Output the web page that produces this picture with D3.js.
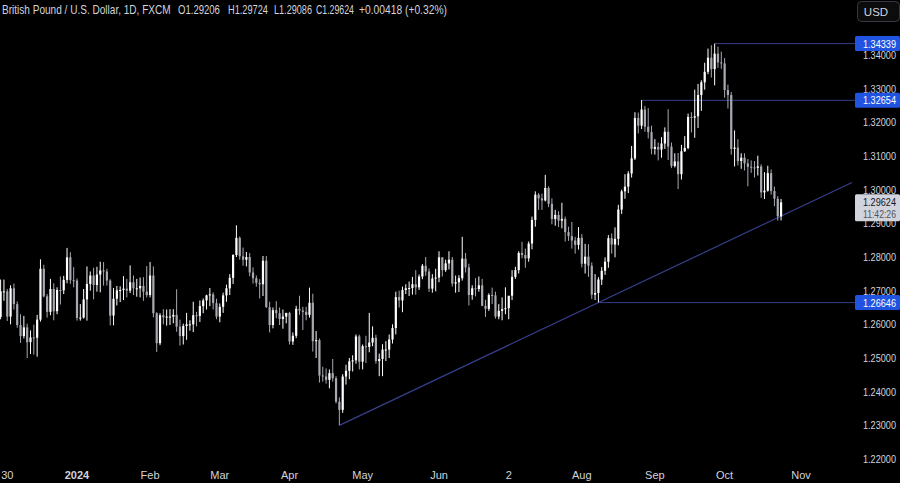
<!DOCTYPE html>
<meta charset="utf-8">
<script src="https://d3js.org/d3.v7.min.js"></script>
<style>
  body{margin:0;background:#000;overflow:hidden;}
  svg{display:block;}
  text{font-family:"Liberation Sans",Arial,sans-serif;}
</style>
<div id="chart"></div>
<script>
// GBPUSD daily candles, [open, high, low, close], one row per trading day
const nov23 = [[1.2622,1.2733,1.2615,1.2698],[1.2698,1.2733,1.2670,1.2698],[1.2698,1.2705,1.2610,1.2623]];
const dec23 = [[1.2623,1.2716,1.2600,1.2707],[1.2707,1.2721,1.2644,1.2660],[1.2660,1.2668,1.2590,1.2598],[1.2598,1.2630,1.2545,1.2565],[1.2565,1.2625,1.2558,1.2591],
  [1.2591,1.2602,1.2500,1.2547],[1.2547,1.2582,1.2512,1.2561],[1.2561,1.2599,1.2510,1.2560],[1.2560,1.2628,1.2504,1.2614],[1.2614,1.2793,1.2608,1.2765],
  [1.2765,1.2777,1.2680,1.2683],[1.2683,1.2690,1.2620,1.2637],[1.2637,1.2735,1.2627,1.2705],[1.2705,1.2722,1.2612,1.2639],[1.2639,1.2710,1.2630,1.2702],
  [1.2702,1.2742,1.2659,1.2701],[1.2701,1.2744,1.2690,1.2732],[1.2732,1.2827,1.2722,1.2799],[1.2799,1.2814,1.2720,1.2731],[1.2731,1.2770,1.2710,1.2730]];
const jan24 = [[1.2730,1.2736,1.2611,1.2619],[1.2619,1.2660,1.2611,1.2620],[1.2620,1.2705,1.2617,1.2674],[1.2674,1.2772,1.2611,1.2720],
  [1.2720,1.2757,1.2700,1.2745],[1.2745,1.2768,1.2674,1.2717],[1.2717,1.2771,1.2697,1.2748],[1.2748,1.2786,1.2695,1.2760],[1.2760,1.2785,1.2715,1.2757],
  [1.2757,1.2765,1.2715,1.2730],[1.2730,1.2734,1.2597,1.2626],[1.2626,1.2708,1.2597,1.2676],[1.2676,1.2714,1.2656,1.2701],[1.2701,1.2713,1.2666,1.2702],
  [1.2702,1.2743,1.2672,1.2706],[1.2706,1.2735,1.2680,1.2700],[1.2700,1.2775,1.2693,1.2725],[1.2725,1.2745,1.2687,1.2707],[1.2707,1.2735,1.2682,1.2707],
  [1.2707,1.2739,1.2680,1.2714],[1.2714,1.2740,1.2670,1.2697],[1.2697,1.2773,1.2680,1.2687]];
const feb24 = [[1.2687,1.2785,1.2680,1.2745],[1.2745,1.2772,1.2621,1.2633],
  [1.2633,1.2636,1.2518,1.2544],[1.2544,1.2633,1.2538,1.2627],[1.2627,1.2645,1.2600,1.2621],[1.2621,1.2644,1.2596,1.2623],[1.2623,1.2645,1.2598,1.2623],
  [1.2623,1.2645,1.2603,1.2628],[1.2628,1.2704,1.2578,1.2593],[1.2593,1.2614,1.2537,1.2565],[1.2565,1.2602,1.2540,1.2595],[1.2595,1.2634,1.2554,1.2600],
  [1.2600,1.2612,1.2581,1.2600],[1.2600,1.2667,1.2577,1.2627],[1.2627,1.2637,1.2594,1.2625],[1.2625,1.2671,1.2607,1.2654],[1.2654,1.2677,1.2633,1.2671],
  [1.2671,1.2688,1.2644,1.2686],[1.2686,1.2708,1.2654,1.2689],[1.2689,1.2695,1.2644,1.2663],[1.2663,1.2676,1.2615,1.2623]];
const mar24 = [[1.2623,1.2662,1.2606,1.2652],
  [1.2652,1.2694,1.2634,1.2686],[1.2686,1.2718,1.2667,1.2707],[1.2707,1.2749,1.2687,1.2738],[1.2738,1.2808,1.2720,1.2806],[1.2806,1.2894,1.2800,1.2857],
  [1.2857,1.2861,1.2792,1.2802],[1.2802,1.2828,1.2774,1.2792],[1.2792,1.2815,1.2772,1.2800],[1.2800,1.2812,1.2743,1.2754],[1.2754,1.2769,1.2721,1.2737],
  [1.2737,1.2745,1.2712,1.2723],[1.2723,1.2734,1.2677,1.2719],[1.2719,1.2803,1.2684,1.2789],[1.2789,1.2803,1.2649,1.2651],[1.2651,1.2667,1.2576,1.2598],
  [1.2598,1.2650,1.2588,1.2642],[1.2642,1.2669,1.2618,1.2633],[1.2633,1.2650,1.2598,1.2616],[1.2616,1.2644,1.2587,1.2623],[1.2623,1.2634,1.2603,1.2634]];
const apr24 = [[1.2634,1.2637,1.2540,1.2549],[1.2549,1.2576,1.2539,1.2566],[1.2566,1.2655,1.2559,1.2646],[1.2646,1.2685,1.2628,1.2641],[1.2641,1.2652,1.2583,1.2637],
  [1.2637,1.2652,1.2612,1.2628],[1.2628,1.2709,1.2620,1.2664],[1.2664,1.2691,1.2519,1.2550],[1.2550,1.2580,1.2500,1.2553],[1.2553,1.2558,1.2427,1.2448],
  [1.2448,1.2474,1.2430,1.2445],[1.2445,1.2469,1.2424,1.2435],[1.2435,1.2466,1.2410,1.2455],[1.2455,1.2497,1.2430,1.2440],[1.2440,1.2446,1.2365,1.2370],
  [1.2370,1.2383,1.2300,1.2346],[1.2346,1.2452,1.2337,1.2445],[1.2445,1.2480,1.2421,1.2462],[1.2462,1.2500,1.2437,1.2490],[1.2490,1.2508,1.2460,1.2493],
  [1.2493,1.2570,1.2483,1.2564],[1.2564,1.2569,1.2466,1.2489]];
const may24 = [[1.2489,1.2540,1.2466,1.2535],[1.2535,1.2566,1.2485,1.2533],[1.2533,1.2634,1.2517,1.2546],
  [1.2546,1.2594,1.2535,1.2560],[1.2560,1.2569,1.2483,1.2491],[1.2491,1.2513,1.2446,1.2497],[1.2497,1.2541,1.2446,1.2525],[1.2525,1.2550,1.2491,1.2525],
  [1.2525,1.2570,1.2500,1.2555],[1.2555,1.2600,1.2543,1.2589],[1.2589,1.2697,1.2570,1.2681],[1.2681,1.2700,1.2650,1.2671],[1.2671,1.2712,1.2636,1.2702],
  [1.2702,1.2719,1.2690,1.2707],[1.2707,1.2727,1.2684,1.2708],[1.2708,1.2741,1.2688,1.2719],[1.2719,1.2761,1.2688,1.2710],[1.2710,1.2748,1.2702,1.2742],
  [1.2742,1.2779,1.2734,1.2774],[1.2774,1.2800,1.2744,1.2757],[1.2757,1.2766,1.2696,1.2706],[1.2706,1.2749,1.2694,1.2736],[1.2736,1.2765,1.2698,1.2739]];
const jun24 = [[1.2739,1.2817,1.2725,1.2799],[1.2799,1.2799,1.2742,1.2761],[1.2761,1.2792,1.2756,1.2781],[1.2781,1.2817,1.2763,1.2792],[1.2792,1.2800,1.2712,1.2721],
  [1.2721,1.2745,1.2694,1.2725],[1.2725,1.2746,1.2696,1.2737],[1.2737,1.2860,1.2730,1.2795],[1.2795,1.2812,1.2754,1.2769],[1.2769,1.2780,1.2656,1.2687],
  [1.2687,1.2716,1.2673,1.2707],[1.2707,1.2737,1.2683,1.2705],[1.2705,1.2742,1.2697,1.2716],[1.2716,1.2735,1.2654,1.2655],[1.2655,1.2673,1.2622,1.2646],
  [1.2646,1.2692,1.2640,1.2687],[1.2687,1.2709,1.2660,1.2686],[1.2686,1.2697,1.2617,1.2623],[1.2623,1.2660,1.2615,1.2640],[1.2640,1.2680,1.2612,1.2645]];
const jul24 = [[1.2645,1.2710,1.2630,1.2648],[1.2648,1.2684,1.2615,1.2685],[1.2685,1.2761,1.2672,1.2741],[1.2741,1.2771,1.2735,1.2761],[1.2761,1.2817,1.2751,1.2812],
  [1.2812,1.2845,1.2796,1.2806],[1.2806,1.2825,1.2768,1.2796],[1.2796,1.2846,1.2786,1.2840],[1.2840,1.2920,1.2823,1.2910],[1.2910,1.2995,1.2890,1.2985],
  [1.2985,1.2990,1.2940,1.2974],[1.2974,1.2988,1.2940,1.2968],[1.2968,1.3044,1.2965,1.3005],[1.3005,1.3010,1.2948,1.2958],[1.2958,1.2974,1.2897,1.2913],
  [1.2913,1.2940,1.2893,1.2925],[1.2925,1.2936,1.2889,1.2908],[1.2908,1.2961,1.2885,1.2913],[1.2913,1.2920,1.2846,1.2874],[1.2874,1.2890,1.2848,1.2862],
  [1.2862,1.2904,1.2825,1.2849],[1.2849,1.2860,1.2810,1.2836],[1.2836,1.2889,1.2822,1.2857]];
const aug24 = [[1.2857,1.2868,1.2769,1.2780],[1.2780,1.2839,1.2751,1.2801],
  [1.2801,1.2838,1.2741,1.2774],[1.2774,1.2784,1.2675,1.2688],[1.2688,1.2749,1.2672,1.2693],[1.2693,1.2740,1.2665,1.2733],[1.2733,1.2770,1.2717,1.2759],
  [1.2759,1.2799,1.2747,1.2786],[1.2786,1.2865,1.2768,1.2856],[1.2856,1.2870,1.2810,1.2837],[1.2837,1.2888,1.2799,1.2854],[1.2854,1.2955,1.2835,1.2941],
  [1.2941,1.3000,1.2928,1.2995],[1.2995,1.3046,1.2973,1.3009],[1.3009,1.3055,1.2990,1.3048],[1.3048,1.3130,1.3036,1.3093],[1.3093,1.3230,1.3088,1.3213],
  [1.3213,1.3229,1.3167,1.3190],[1.3190,1.3266,1.3180,1.3238],[1.3238,1.3249,1.3172,1.3187],[1.3187,1.3242,1.3152,1.3171],[1.3171,1.3190,1.3105,1.3121]];
const sep24 = [[1.3121,1.3150,1.3104,1.3127],[1.3127,1.3140,1.3087,1.3119],[1.3119,1.3156,1.3095,1.3137],[1.3137,1.3185,1.3121,1.3172],[1.3172,1.3239,1.3088,1.3128],
  [1.3128,1.3140,1.3064,1.3070],[1.3070,1.3108,1.3066,1.3084],[1.3084,1.3109,1.3002,1.3046],[1.3046,1.3133,1.3030,1.3114],[1.3114,1.3159,1.3112,1.3124],
  [1.3124,1.3226,1.3120,1.3216],[1.3216,1.3230,1.3170,1.3214],[1.3214,1.3297,1.3154,1.3218],[1.3218,1.3314,1.3183,1.3281],[1.3281,1.3325,1.3234,1.3319],
  [1.3319,1.3377,1.3297,1.3350],[1.3350,1.3419,1.3343,1.3392],[1.3392,1.3429,1.3333,1.3358],[1.3358,1.34339,1.3310,1.3404],[1.3404,1.3425,1.3362,1.3378],
  [1.3378,1.3410,1.3359,1.3375]];
const oct24 = [[1.3375,1.3391,1.3273,1.3296],[1.3296,1.3312,1.3241,1.3281],[1.3281,1.3290,1.3104,1.3121],[1.3121,1.3176,1.3069,1.3125],
  [1.3125,1.3150,1.3072,1.3085],[1.3085,1.3108,1.3062,1.3095],[1.3095,1.3108,1.3057,1.3078],[1.3078,1.3091,1.3010,1.3068],[1.3068,1.3087,1.3050,1.3066],
  [1.3066,1.3085,1.3036,1.3065],[1.3065,1.3101,1.3042,1.3069],[1.3069,1.3075,1.2976,1.2992],[1.2992,1.3052,1.2972,1.2997],[1.2997,1.3071,1.2994,1.3049],
  [1.3049,1.3060,1.2985,1.2996],[1.2996,1.3009,1.2951,1.2973],[1.2973,1.2981,1.2908,1.2921],[1.29206,1.29724,1.29086,1.29624]];

const firstDay = "2023-11-28", lastDay = "2024-11-01";
const closedDays = ["2023-12-25", "2024-01-01"];

// time axis labels
const xTicks = [["2023-11-30","30"],["2024-01-02","2024"],["2024-02-01","Feb"],["2024-03-01","Mar"],["2024-04-01","Apr"],["2024-05-01","May"],
  ["2024-06-03","Jun"],["2024-07-02","2"],["2024-08-01","Aug"],["2024-09-02","Sep"],["2024-10-01","Oct"],["2024-11-01","Nov"]];
const yTicks = [1.22,1.23,1.24,1.25,1.26,1.27,1.28,1.29,1.30,1.31,1.32,1.33,1.34];

// drawn levels
const levels = [{price:1.34339, from:"2024-09-26"},{price:1.32654, from:"2024-08-27"},{price:1.26646, from:"2024-08-08"}];
const trendPoints = [["2024-04-22",1.2300],["2024-08-08",1.26646]];

const title = "British Pound / U.S. Dollar, 1D, FXCM";
const ohlcLabels = ["O1.29206","H1.29724","L1.29086","C1.29624","+0.00418 (+0.32%)"];
const countdown = "11:42:26";

const candles = [].concat(nov23, dec23, jan24, feb24, mar24, apr24, may24, jun24, jul24, aug24, sep24, oct24);

// trading days (weekdays minus closed days)
const fmt = d3.utcFormat("%Y-%m-%d");
const days = d3.utcDays(new Date(firstDay), d3.utcDay.offset(new Date(lastDay), 1))
  .filter(d => d.getUTCDay() > 0 && d.getUTCDay() < 6 && !closedDays.includes(fmt(d)))
  .map(fmt);
const idx = s => days.indexOf(s);

const W = 900, H = 483, axisX = 855;
const upColor = "#ffffff", downColor = "#a7aab1", lineColor = "#363f8c", labelBlue = "#1f53e0", textColor = "#d1d4dc";
const priceFmt = d3.format(".5f");

const x = d3.scaleLinear().domain([idx("2024-01-02"), idx("2024-11-01")]).range([77, 801]);
const y = d3.scaleLinear().domain([1.22, 1.34]).range([459, 55]);

const svg = d3.select("#chart").append("svg").attr("width", W).attr("height", H)
  .style("background", "#000");

svg.append("clipPath").attr("id","clip").append("rect").attr("x",0).attr("y",0).attr("width",axisX).attr("height",462);

// levels + trendline
const g = svg.append("g").attr("clip-path","url(#clip)");
levels.forEach(l => {
  g.append("line").attr("x1", x(idx(l.from))).attr("x2", axisX)
    .attr("y1", y(l.price)).attr("y2", y(l.price))
    .attr("stroke", lineColor).attr("stroke-width", 1);
});
const t0 = [x(idx(trendPoints[0][0])), y(trendPoints[0][1])];
const t1 = [x(idx(trendPoints[1][0])), y(trendPoints[1][1])];
const slope = (t1[1]-t0[1])/(t1[0]-t0[0]);
const tEnd = 852;
g.append("line").attr("x1", t0[0]).attr("y1", t0[1]).attr("x2", tEnd).attr("y2", t0[1] + slope*(tEnd - t0[0]))
  .attr("stroke", lineColor).attr("stroke-width", 1.2);

// candles
const bars = g.selectAll("g.c").data(candles).enter().append("g").attr("class","c");
bars.append("line")
  .attr("x1", (d,i) => x(i)).attr("x2", (d,i) => x(i))
  .attr("y1", d => y(d[1])).attr("y2", d => y(d[2]))
  .attr("stroke", d => d[3] >= d[0] ? upColor : downColor).attr("stroke-width", 1);
bars.append("rect")
  .attr("x", (d,i) => x(i) - 1.1).attr("width", 2.2)
  .attr("y", d => y(Math.max(d[0], d[3])))
  .attr("height", d => Math.max(1, Math.abs(y(d[0]) - y(d[3]))))
  .attr("fill", d => d[3] >= d[0] ? upColor : downColor);

// narrow text: squeeze horizontally to the width the reference's condensed font takes
function narrowText(parent, s, x0, y0, width, size, color) {
  const grp = parent.append("g");
  const t = grp.append("text").attr("font-size", size).attr("fill", color).text(s);
  const k = width / t.node().getComputedTextLength();
  grp.attr("transform", `translate(${x0},${y0}) scale(${k},1)`);
  return t;
}

// header
const headerX = [178, 228, 274, 316, 359], headerW = [42, 40, 38, 38, 88];
narrowText(svg, title, 2, 14, 169, 12.5, textColor);
ohlcLabels.forEach((s,i) => narrowText(svg, s, headerX[i], 14, headerW[i], 12.5, textColor));

// price axis
yTicks.forEach(v => narrowText(svg, priceFmt(v), 863, y(v) + 4, 33, 11.5, textColor));

levels.forEach(l => {
  svg.append("rect").attr("x", axisX).attr("y", y(l.price) - 7.5).attr("width", 45).attr("height", 15)
    .attr("rx", 1.5).attr("fill", labelBlue);
  narrowText(svg, priceFmt(l.price), 863, y(l.price) + 4, 33, 11.5, "#fff");
});

const last = candles[candles.length-1][3];
svg.append("rect").attr("x", axisX).attr("y", y(last) - 8).attr("width", 45).attr("height", 27)
  .attr("rx", 1.5).attr("fill", "#d1d4dc");
narrowText(svg, priceFmt(last), 863, y(last) + 4, 33, 11.5, "#131722");
narrowText(svg, countdown, 863, y(last) + 16, 33, 11.5, "#50535e");

// currency button
svg.append("rect").attr("x", 857.5).attr("y", 1.5).attr("width", 42).attr("height", 20).attr("rx", 4)
  .attr("fill", "#0c0c0c").attr("stroke", "#363a45");
svg.append("text").attr("x", 876).attr("y", 16).attr("text-anchor","middle").attr("font-size", 11.5)
  .attr("fill", textColor).text("USD");

// time axis
svg.append("g").selectAll("text").data(xTicks).enter().append("text")
  .attr("x", d => x(idx(d[0]))).attr("y", 479).attr("text-anchor","middle")
  .attr("font-size", 11).attr("fill", textColor)
  .attr("font-weight", d => d[1] === "2024" ? "bold" : "normal")
  .text(d => d[1]);
</script>
